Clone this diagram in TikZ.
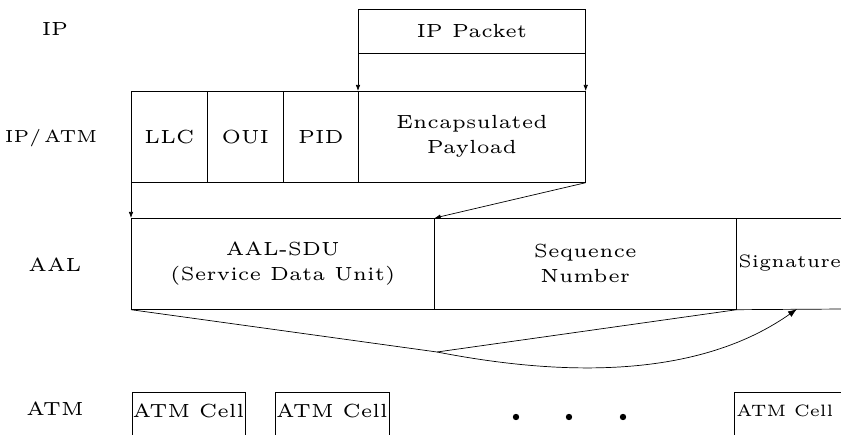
\documentclass[tikz,border=0pt]{standalone}
\usepackage{fontspec}
\setmainfont{lmroman5-regular.otf}
\usetikzlibrary{arrows.meta}
\newcommand\lsfont{\fontsize{19}{25}\selectfont}
\newcommand\edgefont{\fontsize{18}{25}\selectfont}
\begin{document}
\begin{tikzpicture}[x=1pt,y=-1pt,line width=0.7pt,
  cell/.style={draw,anchor=north west,inner sep=0pt,align=center,font=\lsfont},
  lbl/.style={font=\lsfont,inner sep=0pt},
  arr/.style={-{Latex[length=6pt,width=4.5pt]}},
  bigarr/.style={-{Latex[length=9pt,width=6.5pt]}}]
\useasboundingbox (0,0) rectangle (841,435);
\clip (0,0) rectangle (841,435);
% left labels
\node[lbl] (lip) at (55,29) {IP};
\node[lbl,font=\fontsize{17.5}{25}\selectfont] (lipatm) at (51,138) {IP/\,ATM};
\node[lbl] (laal) at (55,265) {AAL};
\node[lbl] (latm) at (55,409) {ATM};
% IP packet
\node[cell,minimum width=227pt,minimum height=44pt] (pkt) at (358,9) {IP Packet};
% IP/ATM
\node[cell,minimum width=76pt,minimum height=91pt] (llc) at (131,91) {LLC};
\node[cell,minimum width=76pt,minimum height=91pt] (oui) at (207,91) {OUI};
\node[cell,minimum width=75pt,minimum height=91pt] (pid) at (283,91) {PID};
\node[cell,minimum width=227pt,minimum height=91pt] (enc) at (358,91) {Encapsulated\\Payload};
% AAL
\node[cell,minimum width=303pt,minimum height=91pt] (sdu) at (131,218) {AAL-SDU\\(Service Data Unit)};
\node[cell,minimum width=302pt,minimum height=91pt] (seq) at (434,218) {Sequence\\Number};
\node[lbl,anchor=west,font=\edgefont] (sig) at (738,263.5) {Signature};
\coordinate (sigtr) at (845,218);
\coordinate (sigbr) at (845,309);
\draw (seq.north east) -- (sigtr);
\draw (seq.south east) -- (sigbr);
% arrows
\draw[arr] (pkt.south west) -- (enc.north west);
\draw[arr] (pkt.south east) -- (enc.north east);
\draw[arr] (llc.south west) -- (sdu.north west);
\draw[arr] (enc.south east) -- (sdu.north east);
\coordinate (m) at (437,352);
\coordinate (sigin) at (797,309);
\draw (sdu.south west) -- (m);
\draw (seq.south east) -- (m);
\draw[bigarr] (m) .. controls (530,370) and (685,388) .. (sigin);
% ATM cells
\node[lbl] (c1) at (188.5,411) {ATM Cell};
\node[lbl] (c2) at (332,411) {ATM Cell};
\node[lbl,anchor=west,font=\fontsize{16.5}{25}\selectfont] (c3) at (736,411) {ATM Cell};
\draw (132,440) -- (132,392) -- (245,392) -- (245,440);
\draw (275,440) -- (275,392) -- (389,392) -- (389,440);
\draw (734,440) -- (734,392) -- (845,392);
\fill (516,417) circle (3.2pt);
\fill (569,417) circle (3.2pt);
\fill (623,417) circle (3.2pt);
\end{tikzpicture}
\end{document}
